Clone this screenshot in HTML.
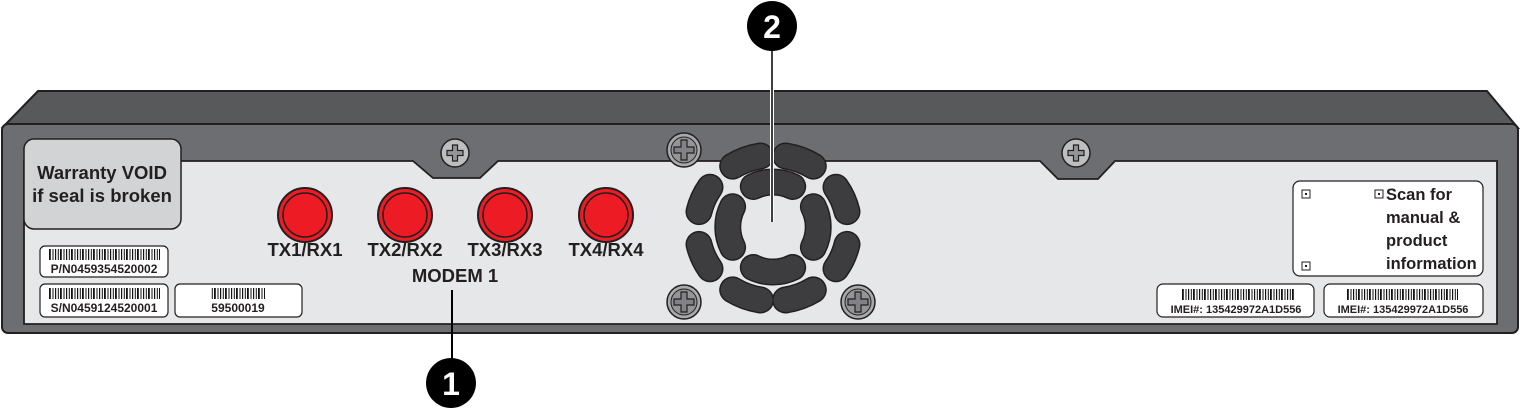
<!DOCTYPE html>
<html><head><meta charset="utf-8"><style>
html,body{margin:0;padding:0;background:#fff;width:1520px;height:409px;overflow:hidden}
svg text{font-family:"Liberation Sans",Arial,sans-serif;font-weight:bold}
</style></head><body>
<svg width="1520" height="409" viewBox="0 0 1520 409" xmlns="http://www.w3.org/2000/svg">
<defs>
<pattern id="bc" width="11" height="10" patternUnits="userSpaceOnUse">
<rect width="11" height="10" fill="#fff"/>
<rect x="0" width="1.2" height="10" fill="#111"/><rect x="2.8" width="1" height="10" fill="#111"/><rect x="5" width="1.8" height="10" fill="#111"/><rect x="8.5" width="1" height="10" fill="#111"/>
</pattern>
<g id="scr"><circle r="17" fill="#a7a9ac" stroke="#231f20" stroke-width="1.5"/><circle r="13" fill="#939598" stroke="#231f20" stroke-width="1"/><path d="M-3,-10h6v7h7v6h-7v7h-6v-7h-7v-6h7z" fill="#808285" stroke="#231f20" stroke-width="1.2"/></g>
<g id="scr2"><circle r="14" fill="#bcbec0" stroke="#231f20" stroke-width="1.5"/><path d="M-2.5,-8h5v5.5h5.5v5h-5.5v5.5h-5v-5.5h-5.5v-5h5.5z" fill="#939598" stroke="#231f20" stroke-width="1.2"/></g>
</defs>
<path d="M3,127 L38,91 L1487,91 L1518,128 Z" fill="#58595b" stroke="#231f20" stroke-width="2"/>
<rect x="2" y="124" width="1516" height="209" rx="6" fill="#6d6e71" stroke="#231f20" stroke-width="2"/>
<path d="M24,161 L413,161 L433,178 L480,178 L498,161 L1040,161 L1058,179 L1098,179 L1115,161 L1497,161 L1497,324 L24,324 Z" fill="#e6e7e8" stroke="#231f20" stroke-width="1.8"/>
<rect x="24" y="139" width="157" height="90" rx="10" fill="#d1d3d4" stroke="#231f20" stroke-width="1.5"/>
<text x="102" y="179" font-size="18.5" text-anchor="middle" fill="#231f20">Warranty VOID</text>
<text x="102" y="202" font-size="18.5" text-anchor="middle" fill="#231f20">if seal is broken</text>
<rect x="40" y="246" width="128" height="31" rx="5" fill="#fff" stroke="#231f20" stroke-width="1.2"/>
<rect x="48" y="249" width="112" height="11" fill="url(#bc)"/>
<text x="104" y="273" font-size="12" text-anchor="middle" fill="#231f20">P/N0459354520002</text>
<rect x="40" y="284" width="128" height="33" rx="5" fill="#fff" stroke="#231f20" stroke-width="1.2"/>
<rect x="48" y="288" width="112" height="11" fill="url(#bc)"/>
<text x="104" y="312" font-size="12" text-anchor="middle" fill="#231f20">S/N0459124520001</text>
<rect x="175" y="284" width="127" height="33" rx="5" fill="#fff" stroke="#231f20" stroke-width="1.2"/>
<rect x="211" y="288" width="54" height="11" fill="url(#bc)"/>
<text x="238" y="312" font-size="12" text-anchor="middle" fill="#231f20">59500019</text>
<g stroke="#231f20">
<circle cx="305" cy="215" r="27" fill="#ed1c24" stroke-width="2"/><circle cx="305" cy="215" r="22" fill="#ed1c24" stroke-width="1.5"/>
<circle cx="405" cy="215" r="27" fill="#ed1c24" stroke-width="2"/><circle cx="405" cy="215" r="22" fill="#ed1c24" stroke-width="1.5"/>
<circle cx="505" cy="215" r="27" fill="#ed1c24" stroke-width="2"/><circle cx="505" cy="215" r="22" fill="#ed1c24" stroke-width="1.5"/>
<circle cx="606" cy="215" r="27" fill="#ed1c24" stroke-width="2"/><circle cx="606" cy="215" r="22" fill="#ed1c24" stroke-width="1.5"/>
</g>
<g font-size="18.5" fill="#231f20" text-anchor="middle">
<text x="305" y="256">TX1/RX1</text><text x="405" y="256">TX2/RX2</text><text x="505" y="256">TX3/RX3</text><text x="606" y="256">TX4/RX4</text>
<text x="455" y="282">MODEM 1</text>
</g>
<use href="#scr2" x="455" y="153"/><use href="#scr2" x="1076" y="153"/>
<use href="#scr" x="684" y="150"/><use href="#scr" x="684" y="302"/><use href="#scr" x="858" y="302"/>
<g fill="none" stroke-linecap="round">
<g stroke="#231f20">
<path stroke-width="27" d="M813.3,166.1 A76,73 0 0 0 785.5,156 M760.5,156 A76,73 0 0 0 732.7,166.1 M710,187.2 A76,73 0 0 0 699,211.6 M699,244.4 A76,73 0 0 0 710,268.8 M732.7,289.9 A76,73 0 0 0 760.5,300 M785.5,300 A76,73 0 0 0 813.3,289.9 M836,268.8 A76,73 0 0 0 847,244.4 M847,211.6 A76,73 0 0 0 836,187.2"/>
<path stroke-width="27" d="M792.7,186.5 A45,45 0 0 0 753.3,186.5 M732.6,206.7 A45,45 0 0 0 732.6,247.3 M753.3,267.5 A45,45 0 0 0 792.7,267.5 M813.4,247.3 A45,45 0 0 0 813.4,206.7"/>
</g>
<g stroke="#3d3d3f">
<path stroke-width="24" d="M813.3,166.1 A76,73 0 0 0 785.5,156 M760.5,156 A76,73 0 0 0 732.7,166.1 M710,187.2 A76,73 0 0 0 699,211.6 M699,244.4 A76,73 0 0 0 710,268.8 M732.7,289.9 A76,73 0 0 0 760.5,300 M785.5,300 A76,73 0 0 0 813.3,289.9 M836,268.8 A76,73 0 0 0 847,244.4 M847,211.6 A76,73 0 0 0 836,187.2"/>
<path stroke-width="24" d="M792.7,186.5 A45,45 0 0 0 753.3,186.5 M732.6,206.7 A45,45 0 0 0 732.6,247.3 M753.3,267.5 A45,45 0 0 0 792.7,267.5 M813.4,247.3 A45,45 0 0 0 813.4,206.7"/>
</g>
</g>
<rect x="1293" y="181" width="190" height="95" rx="7" fill="#fff" stroke="#231f20" stroke-width="1.2"/>
<g fill="#fff" stroke="#231f20" stroke-width="1"><rect x="1302" y="190" width="8" height="8"/><rect x="1375" y="190" width="8" height="8"/><rect x="1302" y="262" width="8" height="8"/></g>
<g fill="#231f20"><rect x="1305" y="193" width="2" height="2"/><rect x="1378" y="193" width="2" height="2"/><rect x="1305" y="265" width="2" height="2"/></g>
<g font-size="16.5" fill="#231f20"><text x="1386" y="200">Scan for</text><text x="1386" y="223">manual &amp;</text><text x="1386" y="246">product</text><text x="1386" y="269">information</text></g>
<rect x="1157" y="284" width="157" height="33" rx="6" fill="#fff" stroke="#231f20" stroke-width="1.2"/>
<rect x="1182" y="289" width="112" height="11" fill="url(#bc)"/>
<text x="1236" y="313" font-size="11" text-anchor="middle" fill="#231f20">IMEI#: 135429972A1D556</text>
<rect x="1324" y="284" width="159" height="33" rx="6" fill="#fff" stroke="#231f20" stroke-width="1.2"/>
<rect x="1346" y="289" width="112" height="11" fill="url(#bc)"/>
<text x="1403" y="313" font-size="11" text-anchor="middle" fill="#231f20">IMEI#: 135429972A1D556</text>
<line x1="452" y1="290" x2="452" y2="360" stroke="#000" stroke-width="2"/>
<circle cx="451" cy="383" r="25" fill="#000"/>
<text x="451" y="395" font-size="32" text-anchor="middle" fill="#fff">1</text>
<line x1="772" y1="48" x2="772" y2="222" stroke="#fff" stroke-width="4"/>
<line x1="772" y1="48" x2="772" y2="222" stroke="#000" stroke-width="1.5"/>
<circle cx="772" cy="26" r="25" fill="#000"/>
<text x="772" y="38" font-size="32" text-anchor="middle" fill="#fff">2</text>
</svg>
</body></html>
